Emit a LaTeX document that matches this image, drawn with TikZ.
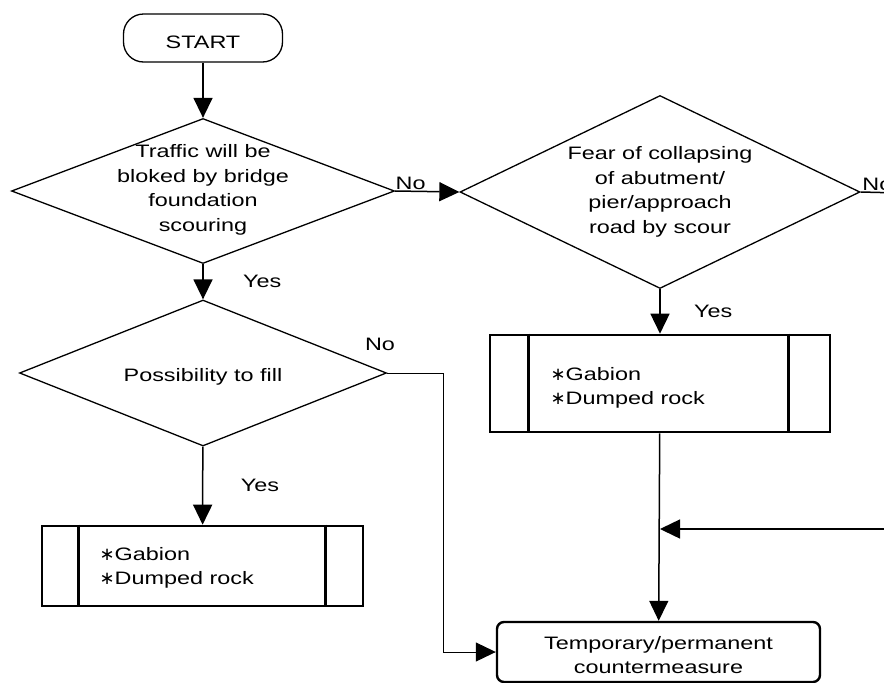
\documentclass[tikz,border=0pt]{standalone}
\usepackage{fontspec}
\setmainfont{Liberation Sans}[FakeStretch=1.3]
\newfontfamily\symfont{DejaVu Sans}
\usetikzlibrary{arrows.meta,shapes.geometric,positioning}
\tikzset{>={Triangle[length=20pt,width=19pt]}}
\newcommand{\bul}{{\symfont ∗}}
\tikzset{
  decision/.style={draw, diamond, line width=1.3pt, inner sep=0pt},
  process/.style={draw, rectangle, line width=2.6pt, inner sep=0pt},
  terminal/.style={draw, rectangle, rounded corners=20pt, line width=1.3pt, minimum width=159pt, minimum height=48pt},
  result/.style={draw, rectangle, rounded corners=7pt, line width=2.4pt, minimum width=323pt, minimum height=60pt},
  flow/.style={->, line width=1.5pt},
  lbl/.style={inner sep=1pt}
}

\begin{document}
\begin{tikzpicture}[x=1pt, y=-1pt, font=\fontsize{18}{24.5}\selectfont]
        \useasboundingbox (0,0) rectangle (884,683);
        \clip (0,0) rectangle (884,683);

        % left column
        \node[terminal] (start) at (203,38) {};
        \node (startText) at (203,42) {START};
        \node[decision, minimum width=383pt, minimum height=145pt] (traffic) at (203,191) {};
        \node[align=center] (trafficText) at (203,190) {Traffic will be\\bloked by bridge\\foundation\\scouring};
        \node[decision, minimum width=367pt, minimum height=146pt] (fill) at (203,373) {};
        \node (fillText) at (203,377) {Possibility to fill};
        \node[process, minimum width=321pt, minimum height=80pt] (gabionA) at (202.5,566) {};
        \node[align=left, anchor=west] (gabionAText) at (96,568) {\bul Gabion\\\bul Dumped rock};
        \draw[line width=2.6pt] ([xshift=38pt]gabionA.north west) -- ([xshift=38pt]gabionA.south west);
        \draw[line width=2.6pt] ([xshift=-39pt]gabionA.north east) -- ([xshift=-39pt]gabionA.south east);

        % right column
        \node[decision, minimum width=400pt, minimum height=193pt] (collapse) at (660,192) {};
        \node[align=center] (collapseText) at (660,192) {Fear of collapsing\\of abutment/\\pier/approach\\road by scour};
        \node[process, minimum width=340pt, minimum height=97pt] (gabionB) at (660,383.5) {};
        \node[align=left, anchor=west] (gabionBText) at (547,388) {\bul Gabion\\\bul Dumped rock};
        \draw[line width=2.6pt] ([xshift=40pt]gabionB.north west) -- ([xshift=40pt]gabionB.south west);
        \draw[line width=2.6pt] ([xshift=-43pt]gabionB.north east) -- ([xshift=-43pt]gabionB.south east);
        \node[result] (measure) at (658.5,652) {};
        \node[align=center] (measureText) at (658.5,655) {Temporary/permanent\\countermeasure};

        % connectors
        \draw[flow] (start) -- (traffic);
        \draw[flow] (traffic) -- node[right=36pt] {Yes} (fill);
        \draw[flow] (traffic.east) -- node[pos=0.24, above, lbl] {No} (collapse.west);
        \coordinate (collapseOut) at (900,193);
        \draw[line width=1.5pt] (collapse.east) -- node[pos=0, above right, lbl] {No} (collapseOut);
        \draw[flow] (collapse) -- node[right=30pt] {Yes} (gabionB);
        \draw[flow] (gabionB) -- (measure);
        \coordinate (fromRight) at (900,529);
        \draw[flow] (fromRight) -- (fromRight -| gabionB.south);
        \draw[flow] (fill) -- node[right=34pt] {Yes} (gabionA);
        \coordinate (fillBend) at (443,373);
        \node (fillNo) at (380,344) {No};
        \draw[flow, line width=1pt] (fill.east) -- (fillBend) |- (measure.west);
\end{tikzpicture}
\end{document}
